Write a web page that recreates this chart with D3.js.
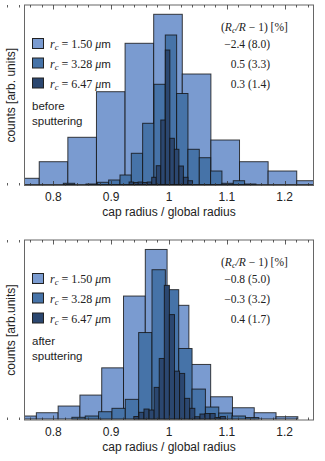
<!DOCTYPE html>
<html>
<head>
<meta charset="utf-8">
<script src="https://cdn.jsdelivr.net/npm/d3@7"></script>
<style>
  body { margin: 0; background: #fff; }
  svg { display: block; }
</style>
</head>
<body>
<div id="chart"></div>
<script>
// histogram bins: first left edge + bin width, then the counts per bin (arb. units)
var topLightStart = 0.726, topLightWidth = 0.0495;
var topLight = [6.2, 22.8, 47.2, 92.8, 141.2, 170.2, 110.5, 44.5, 22.8, 13.5, 3.8];
var topMedStart = 0.8172, topMedWidth = 0.0196;
var topMed = [1.2, 0, 0.5, 2.2, 4.5, 9.5, 31.2, 61.2, 100.2, 149.5, 91, 35.2, 26.8, 13.5, 1.2, 3.8, 0.5];
var topDarkStart = 0.9309, topDarkWidth = 0.00784;
var topDark = [2.5, 2, 2.5, 2, 2.5, 7.2, 18.8, 64.5, 134.5, 46.2, 35.2, 18.5, 7.2, 3.8];

var botLightStart = 0.7328, botLightWidth = 0.0377;
var botLight = [3, 6.3, 13, 24, 51.3, 123.3, 170, 114, 54.7, 22.3, 11.3, 6.3, 2.3];
var botMedStart = 0.832, botMedWidth = 0.0231;
var botMed = [1.7, 3, 7.3, 10.7, 19.7, 86.7, 149.7, 129.7, 70.7, 30, 12, 6, 3, 1.5];
var botDarkStart = 0.9391, botDarkWidth = 0.0088;
var botDark = [2.5, 6.7, 10, 9, 31.7, 60.7, 134, 104.7, 48, 45.7, 20.7, 10.7, 2.3, 5, 5.5, 5.5, 1.5, 2.5];

var legendRadii = ["1.50", "3.28", "6.47"];
var topDeviation = ["\u22122.4 (8.0)", "0.5 (3.3)", "0.3 (1.4)"];
var botDeviation = ["\u22120.8 (5.0)", "\u22120.3 (3.2)", "0.4 (1.7)"];
var xTicks = [0.8, 0.9, 1, 1.1, 1.2];

var colors = ["#7a9bd0", "#4673a8", "#2b4770"];

var W = 325, H = 461;
var svg = d3.select("#chart").append("svg").attr("width", W).attr("height", H);

var x = d3.scaleLinear().domain([0.75, 1.25]).range([24.5, 313.5]);

var sans = "'Liberation Sans', Arial, sans-serif";
var serif = "'Liberation Serif', 'DejaVu Serif', serif";

var panel = function(id, top, bottom, series, devs, yLabel, note) {
  var y = d3.scaleLinear().domain([0, 180]).range([bottom - 1, top - 0.5]);
  var g = svg.append("g");

  svg.append("clipPath").attr("id", "clip" + id).append("rect")
    .attr("x", x.range()[0]).attr("y", top).attr("width", x.range()[1] - x.range()[0]).attr("height", bottom - top);

  var bars = g.append("g").attr("clip-path", "url(#clip" + id + ")");
  series.forEach(function(s, si) {
    var data = s.counts.map(function(c, i) {
      return { x0: s.start + i * s.width, x1: s.start + (i + 1) * s.width, c: c };
    }).filter(function(d) { return d.c > 0; });
    bars.selectAll("rect.s" + si).data(data).enter().append("rect")
      .attr("class", "s" + si)
      .attr("x", function(d) { return x(d.x0); })
      .attr("width", function(d) { return x(d.x1) - x(d.x0); })
      .attr("y", function(d) { return y(d.c); })
      .attr("height", function(d) { return y(0) - y(d.c); })
      .style("fill", colors[si])
      .style("stroke", "#111")
      .style("stroke-opacity", 0.8)
      .style("stroke-width", 1);
  });

  // frame
  g.append("rect").attr("x", x.range()[0]).attr("y", top)
    .attr("width", x.range()[1] - x.range()[0]).attr("height", bottom - top)
    .style("fill", "none").style("stroke", "#666").style("stroke-width", 1);

  var minor = d3.range(38, 125, 2).map(function(v) { return v / 100; });
  var tickG = g.append("g");
  minor.forEach(function(v) {
    var major = Math.abs(Math.round(v * 10) - v * 10) < 1e-6;
    var len = major ? 4.5 : 2.5;
    var px = Math.round(x(v)) + 0.5;
    tickG.append("line").attr("x1", px).attr("x2", px).attr("y1", bottom).attr("y2", bottom - len)
      .style("stroke", "#333").style("stroke-width", 0.8);
    tickG.append("line").attr("x1", px).attr("x2", px).attr("y1", top).attr("y2", top + len)
      .style("stroke", "#333").style("stroke-width", 0.8);
  });

  g.selectAll("text.tl").data(xTicks).enter().append("text")
    .attr("x", function(d) { return x(d); })
    .attr("y", bottom + 15.5)
    .attr("text-anchor", "middle")
    .style("font", "12px " + sans)
    .style("fill", "#222")
    .text(function(d) { return d; });

  g.append("text").attr("x", 169).attr("y", bottom + 30.5)
    .attr("text-anchor", "middle")
    .style("font", "12px " + sans)
    .style("fill", "#222")
    .text("cap radius / global radius");

  g.append("text")
    .attr("transform", "translate(15," + ((top + bottom) / 2) + ") rotate(-90)")
    .attr("text-anchor", "middle")
    .style("font", "12px " + sans)
    .style("fill", "#222")
    .text(yLabel);

  // legend
  var rowY = [top + 39, top + 58.5, top + 78.5];
  legendRadii.forEach(function(r, i) {
    g.append("rect").attr("x", 32.5).attr("y", rowY[i] - 5.5).attr("width", 11).attr("height", 10)
      .style("fill", colors[i]).style("stroke", "#222").style("stroke-width", 1);
    var t = g.append("text").attr("x", 50).attr("y", rowY[i] + 4)
      .style("font", "12px " + serif).style("fill", "#222");
    t.append("tspan").style("font-style", "italic").text("r");
    t.append("tspan").style("font-style", "italic").style("font-size", "8.5px").attr("dy", 2).text("c");
    t.append("tspan").attr("dy", -2).text(" = " + r + " ");
    t.append("tspan").style("font-style", "italic").text("\u03bc");
    t.append("tspan").style("font-family", sans).style("font-size", "11.5px").text("m");

    g.append("text").attr("x", 270).attr("y", rowY[i] + 4)
      .attr("text-anchor", "end")
      .style("font", "11.5px " + serif).style("fill", "#222")
      .text(devs[i]);
  });

  var h = g.append("text").attr("x", 221).attr("y", top + 26)
    .style("font", "11.5px " + serif).style("fill", "#222");
  h.append("tspan").text("(");
  h.append("tspan").style("font-style", "italic").text("R");
  h.append("tspan").style("font-style", "italic").style("font-size", "8.5px").attr("dy", 2).text("c");
  h.append("tspan").attr("dy", -2).style("font-style", "italic").text("/R");
  h.append("tspan").text(" \u2212 1) [%]");

  note.forEach(function(line, i) {
    g.append("text").attr("x", 32).attr("y", top + 104.5 + i * 15)
      .style("font", "11.5px " + sans).style("fill", "#222")
      .text(line);
  });
};

panel("a", 5, 185.5, [
  { start: topLightStart, width: topLightWidth, counts: topLight },
  { start: topMedStart, width: topMedWidth, counts: topMed },
  { start: topDarkStart, width: topDarkWidth, counts: topDark }
], topDeviation, "counts [arb. units]", ["before", "sputtering"]);

panel("b", 240, 420, [
  { start: botLightStart, width: botLightWidth, counts: botLight },
  { start: botMedStart, width: botMedWidth, counts: botMed },
  { start: botDarkStart, width: botDarkWidth, counts: botDark }
], botDeviation, "counts [arb.units]", ["after", "sputtering"]);
</script>
</body>
</html>
